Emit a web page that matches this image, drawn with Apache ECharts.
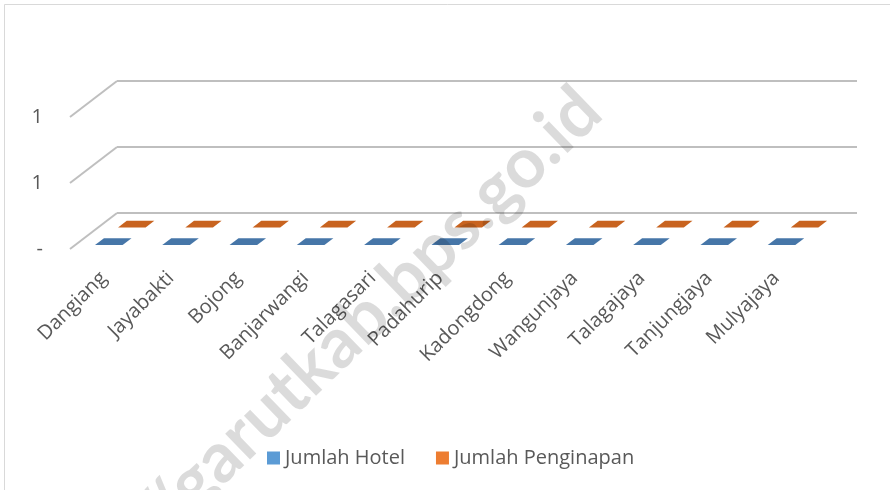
<!DOCTYPE html>
<html><head><meta charset="utf-8">
<script src="https://cdn.jsdelivr.net/npm/echarts@6/dist/echarts.min.js"></script>
<style>html,body{margin:0;background:#fff}#c{width:890px;height:490px}</style>
</head><body><div id="c"></div>
<script>
// === data ===
const desa=['Dangiang','Jayabakti','Bojong','Banjarwangi','Talagasari','Padahurip','Kadongdong','Wangunjaya','Talagajaya','Tanjungjaya','Mulyajaya'];
const jmlHotel=[0,0,0,0,0,0,0,0,0,0,0];
const jmlPenginapan=[0,0,0,0,0,0,0,0,0,0,0];
const yTicks=[0,0.5,1];

// === style ===
const DX=-47,DY=36;          // depth offset, back wall -> front plane
const BAR_W=0.41;
const FONT='"Open Sans",sans-serif';
const C_TXT='#595959',C_GRID='#bfbfbf';

function barItem(d0,d1,top,front,side){
  return function(params,api){
    var i=api.value(0),v=api.value(1);
    var p=api.coord([i,v]),b=api.coord([i,0]);
    var w=api.size([1,0])[0]*BAR_W/2;
    var pt=function(x,y,d){return[x+DX*d,y+DY*d]};
    var L=p[0]-w,R=p[0]+w,yt=p[1],yb=b[1];
    return{type:'group',children:[
      {type:'polygon',shape:{points:[pt(L,yt,d1),pt(R,yt,d1),pt(R,yb,d1),pt(L,yb,d1)]},style:{fill:front}},
      {type:'polygon',shape:{points:[pt(R,yt,d0),pt(R,yt,d1),pt(R,yb,d1),pt(R,yb,d0)]},style:{fill:side}},
      {type:'polygon',shape:{points:[pt(L,yt,d0),pt(R,yt,d0),pt(R,yt,d1),pt(L,yt,d1)]},style:{fill:top}}
    ]};
  };
}

function wallTick(params,api){
  var p=api.coord([0,api.value(1)]);
  var x=p[0]-api.size([1,0])[0]/2;
  return{type:'line',shape:{x1:x,y1:p[1],x2:x+DX,y2:p[1]+DY},style:{stroke:C_GRID,lineWidth:2}};
}

const chart=echarts.init(document.getElementById('c'));
chart.setOption({
  animation:false,
  backgroundColor:'#fff',
  grid:[
    {left:117,top:81,width:740,height:132},
    {left:70,top:117,width:740,height:132}
  ],
  xAxis:[
    {gridIndex:0,type:'category',data:desa,show:false},
    {gridIndex:1,type:'category',data:desa,axisLine:{show:false},axisTick:{show:false},
     axisLabel:{interval:0,rotate:45,margin:26,color:C_TXT,fontSize:20,fontFamily:FONT}}
  ],
  yAxis:[
    {gridIndex:0,type:'value',min:0,max:1,interval:0.5,axisLabel:{show:false},axisLine:{show:false},axisTick:{show:false},
     splitLine:{lineStyle:{color:C_GRID,width:2}}},
    {gridIndex:1,type:'value',min:0,max:1,interval:0.5,splitLine:{show:false},axisLine:{show:false},axisTick:{show:false},
     axisLabel:{margin:27,color:C_TXT,fontSize:20,fontFamily:FONT,formatter:function(v){return v===0?'-':String(Math.round(v))}}}
  ],
  legend:{left:262,top:443,icon:'rect',itemWidth:13,itemHeight:13,itemGap:31,
    textStyle:{color:C_TXT,fontSize:20,fontFamily:FONT},data:['Jumlah Hotel','Jumlah Penginapan']},
  series:[
    {type:'custom',name:'wall',xAxisIndex:0,yAxisIndex:0,renderItem:wallTick,data:yTicks.map(function(v){return[0,v]}),silent:true},
    {type:'custom',name:'Jumlah Penginapan',xAxisIndex:0,yAxisIndex:0,itemStyle:{color:'#ed7d31'},
     renderItem:barItem(0.215,0.40,'#c8631f','#ed7d31','#b8561a'),data:jmlPenginapan.map(function(v,i){return[i,v]})},
    {type:'custom',name:'Jumlah Hotel',xAxisIndex:0,yAxisIndex:0,itemStyle:{color:'#5b9bd5'},
     renderItem:barItem(0.70,0.89,'#4676a8','#5b9bd5','#3f6b98'),data:jmlHotel.map(function(v,i){return[i,v]})}
  ],
  graphic:[
    {type:'rect',shape:{x:4.5,y:4.5,width:900,height:500},style:{fill:null,stroke:'#d9d9d9',lineWidth:1},silent:true},
    // watermark
    {type:'text',x:590,y:100,rotation:44*Math.PI/180,z:100,silent:true,
     style:{text:'https://garutkab.bps.go.id',fontSize:70,fontWeight:'bold',fontFamily:'Lato',fill:'rgba(0,0,0,0.14)',align:'right',verticalAlign:'middle'}}
  ]
});
</script>
</body></html>
